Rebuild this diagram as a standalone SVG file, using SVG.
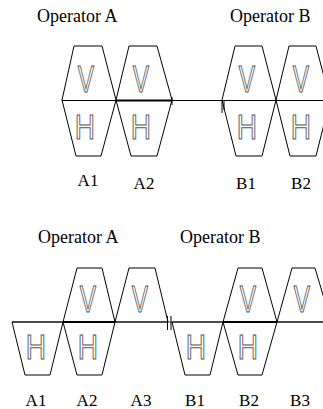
<svg xmlns="http://www.w3.org/2000/svg" width="323" height="409" viewBox="0 0 323 409">
<style>
.hex{fill:none;stroke:#000;stroke-width:1}
.lbl{font-family:"Liberation Serif","Times New Roman",serif;font-size:17px;fill:#000;text-anchor:middle}
.op{font-family:"Liberation Serif","Times New Roman",serif;font-size:18px;fill:#000}
.gl{font-family:"Liberation Sans",Arial,sans-serif;font-size:36px;fill:#fff;stroke:#555;stroke-width:1.1;text-anchor:middle}
.thin{stroke:#000;stroke-width:1;fill:none}
.gray{stroke:#777;stroke-width:1.4;fill:none}
.thick{stroke:#000;stroke-width:2.2;fill:none}
</style>
<rect width="323" height="409" fill="#fff"/>
<text class="op" x="37" y="22">Operator A</text>
<text class="op" x="230" y="22">Operator B</text>
<text class="op" x="38" y="243">Operator A</text>
<text class="op" x="180" y="243">Operator B</text>
<g id="connectors">
<line class="thin" x1="62" y1="100.5" x2="116" y2="100.5"/>
<line class="thick" x1="116" y1="100.5" x2="172" y2="100.5"/>
<line class="thin" x1="172" y1="100.5" x2="323" y2="100.5"/>
<line class="thin" x1="172" y1="97" x2="172" y2="105"/>
<line class="thin" x1="222" y1="100" x2="222" y2="113"/>
<line class="thin" x1="224" y1="100" x2="224" y2="110"/>
<line class="gray" x1="12" y1="322" x2="323" y2="322"/>
<line class="thick" x1="63" y1="322" x2="115" y2="322"/>
<line class="thick" x1="223" y1="322" x2="277" y2="322"/>
<line class="thin" x1="167.5" y1="316" x2="167.5" y2="330"/>
<line class="thin" x1="171" y1="316" x2="171" y2="330"/>
</g>
<g id="A1top">
<polygon class="hex" points="62,100 74,46 102,46 116,100 101,156 76,156"/>
<text class="gl" transform="translate(86,92) scale(0.68,1)">V</text>
<text class="gl" transform="translate(85,139) scale(0.78,1)">H</text>
<text class="lbl" x="88" y="186">A1</text>
</g>
<g id="A2top">
<polygon class="hex" points="116,100 129,46 157,46 172,100 157,156 131,156"/>
<text class="gl" transform="translate(141,92) scale(0.68,1)">V</text>
<text class="gl" transform="translate(141,139) scale(0.78,1)">H</text>
<text class="lbl" x="144" y="189">A2</text>
</g>
<g id="B1top">
<polygon class="hex" points="222,100 235,46 262,46 276,100 262,156 236,156"/>
<text class="gl" transform="translate(247,92) scale(0.68,1)">V</text>
<text class="gl" transform="translate(247,139) scale(0.78,1)">H</text>
<text class="lbl" x="246" y="189">B1</text>
</g>
<g id="B2top">
<polygon class="hex" points="276,100 289,46 316,46 330,100 316,156 290,156"/>
<text class="gl" transform="translate(301,92) scale(0.68,1)">V</text>
<text class="gl" transform="translate(301,139) scale(0.78,1)">H</text>
<text class="lbl" x="301" y="189">B2</text>
</g>
<g id="A1bot">
<polygon class="hex" points="12,322 63,322 50,375 25,375"/>
<text class="gl" transform="translate(36,359) scale(0.78,1)">H</text>
<text class="lbl" x="36" y="406">A1</text>
</g>
<g id="A2bot">
<polygon class="hex" points="63,322 77,268 102,268 115,322 102,375 77,375"/>
<text class="gl" transform="translate(88,312) scale(0.68,1)">V</text>
<text class="gl" transform="translate(88,359) scale(0.78,1)">H</text>
<text class="lbl" x="87" y="406">A2</text>
</g>
<g id="A3bot">
<polygon class="hex" points="115,322 129,268 155,268 168,322"/>
<text class="gl" transform="translate(140,312) scale(0.68,1)">V</text>
<text class="lbl" x="141" y="406">A3</text>
</g>
<g id="B1bot">
<polygon class="hex" points="172,322 223,322 210,375 185,375"/>
<text class="gl" transform="translate(196,359) scale(0.78,1)">H</text>
<text class="lbl" x="195" y="406">B1</text>
</g>
<g id="B2bot">
<polygon class="hex" points="223,322 238,268 262,268 277,322 262,375 238,375"/>
<text class="gl" transform="translate(248,312) scale(0.68,1)">V</text>
<text class="gl" transform="translate(248,359) scale(0.78,1)">H</text>
<text class="lbl" x="249" y="406">B2</text>
</g>
<g id="B3bot">
<polygon class="hex" points="277,322 292,268 315,268 331,322"/>
<text class="gl" transform="translate(302,312) scale(0.68,1)">V</text>
<text class="lbl" x="300" y="406">B3</text>
</g>
</svg>
